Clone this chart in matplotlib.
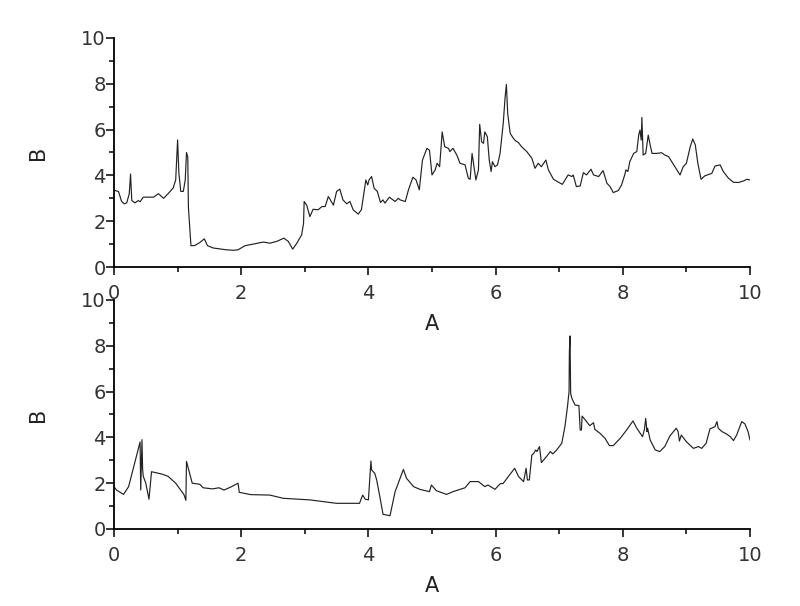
import numpy as np
import matplotlib
matplotlib.use('Agg')
import matplotlib.pyplot as plt
from matplotlib.ticker import MultipleLocator

# top panel
top_a = [0.0, 0.07, 0.12, 0.16, 0.2, 0.24, 0.26, 0.28, 0.33, 0.38, 0.41, 0.46, 0.62, 0.70, 0.78, 0.85,
         0.93, 0.97, 1.0, 1.02, 1.05, 1.09, 1.12, 1.14, 1.16, 1.17, 1.21, 1.27, 1.35, 1.42, 1.47, 1.56,
         1.77, 1.88, 1.95, 2.06, 2.19, 2.35, 2.45, 2.56, 2.67, 2.74, 2.81, 2.87, 2.95, 2.98, 2.99, 3.03,
         3.08, 3.13, 3.21, 3.27, 3.32, 3.37, 3.45, 3.5, 3.55, 3.6, 3.66, 3.71, 3.76, 3.84, 3.89, 3.96,
         3.99, 4.01, 4.05, 4.09, 4.14, 4.19, 4.23, 4.26, 4.33, 4.42, 4.47, 4.50, 4.58, 4.63, 4.70, 4.75,
         4.80, 4.85, 4.92, 4.96, 5.0, 5.05, 5.08, 5.12, 5.16, 5.2, 5.26, 5.28, 5.33, 5.39, 5.44, 5.52,
         5.57, 5.6, 5.63, 5.66, 5.69, 5.73, 5.75, 5.78, 5.81, 5.83, 5.87, 5.9, 5.93, 5.95, 5.99, 6.03,
         6.07, 6.12, 6.15, 6.17, 6.19, 6.23, 6.28, 6.31, 6.36, 6.41, 6.49, 6.57, 6.62, 6.67, 6.72, 6.79,
         6.83, 6.91, 6.99, 7.05, 7.14, 7.2, 7.22, 7.27, 7.33, 7.38, 7.43, 7.5, 7.54, 7.62, 7.69, 7.75,
         7.8, 7.85, 7.93, 7.98, 8.03, 8.05, 8.08, 8.11, 8.17, 8.22, 8.25, 8.27, 8.29, 8.3, 8.32, 8.36,
         8.4, 8.43, 8.46, 8.53, 8.61, 8.66, 8.72, 8.77, 8.85, 8.9, 8.95, 9.0, 9.06, 9.1, 9.14, 9.18,
         9.23, 9.29, 9.4, 9.45, 9.53, 9.58, 9.66, 9.74, 9.82, 9.9, 9.95, 10.0]
top_b = [3.35, 3.3, 2.86, 2.76, 2.8, 3.2, 4.06, 2.9, 2.8, 2.9, 2.85, 3.05, 3.05, 3.2, 3.0, 3.2,
         3.45, 3.8, 5.55, 4.1, 3.3, 3.3, 3.8, 5.0, 4.8, 2.6, 0.93, 0.94, 1.07, 1.23, 0.93, 0.83,
         0.75, 0.73, 0.75, 0.93, 1.0, 1.09, 1.04, 1.12, 1.26, 1.12, 0.78, 1.02, 1.4, 1.9, 2.86, 2.7,
         2.2, 2.52, 2.5, 2.64, 2.64, 3.08, 2.7, 3.3, 3.4, 2.93, 2.76, 2.86, 2.5, 2.31, 2.5, 3.8,
         3.58, 3.8, 3.95, 3.44, 3.3, 2.82, 2.93, 2.79, 3.05, 2.86, 3.0, 2.93, 2.86, 3.37, 3.92, 3.8,
         3.37, 4.67, 5.18, 5.1, 4.02, 4.24, 4.53, 4.38, 5.9, 5.25, 5.18, 5.04, 5.18, 4.89, 4.53, 4.46,
         3.88, 3.83, 4.96, 4.38, 3.8, 4.24, 6.23, 5.47, 5.4, 5.9, 5.69, 4.67, 4.17, 4.6, 4.38, 4.46,
         4.96, 6.27, 7.43, 7.97, 6.7, 5.83, 5.62, 5.52, 5.43, 5.25, 5.04, 4.75, 4.31, 4.53, 4.38, 4.67,
         4.24, 3.83, 3.7, 3.61, 4.02, 3.95, 4.02, 3.51, 3.54, 4.12, 4.02, 4.27, 4.02, 3.95, 4.21, 3.66,
         3.51, 3.25, 3.34, 3.58, 4.02, 4.24, 4.17, 4.6, 4.96, 5.04, 5.76, 5.98, 5.54, 6.53, 4.89, 4.96,
         5.76, 5.33, 4.96, 4.96, 4.99, 4.89, 4.82, 4.6, 4.24, 4.02, 4.38, 4.53, 5.25, 5.59, 5.33, 4.53,
         3.83, 3.98, 4.09, 4.41, 4.46, 4.17, 3.88, 3.7, 3.69, 3.76, 3.83, 3.8]

# bottom panel
bot_a = [0.0, 0.04, 0.15, 0.23, 0.33, 0.41, 0.42, 0.44, 0.45, 0.46, 0.5, 0.55, 0.59, 0.75, 0.85, 0.97,
         1.1, 1.13, 1.14, 1.23, 1.35, 1.4, 1.55, 1.65, 1.73, 1.85, 1.95, 1.97, 2.15, 2.45, 2.66, 3.08,
         3.5, 3.86, 3.91, 3.95, 4.0, 4.04, 4.05, 4.1, 4.13, 4.18, 4.23, 4.34, 4.37, 4.42, 4.47, 4.55,
         4.6, 4.71, 4.81, 4.96, 4.99, 5.07, 5.23, 5.33, 5.52, 5.6, 5.73, 5.83, 5.88, 5.99, 6.07, 6.12,
         6.2, 6.3, 6.36, 6.44, 6.48, 6.5, 6.53, 6.57, 6.6, 6.63, 6.65, 6.69, 6.72, 6.8, 6.86, 6.9,
         6.96, 7.04, 7.09, 7.13, 7.155, 7.16, 7.17, 7.18, 7.2, 7.25, 7.31, 7.33, 7.35, 7.36, 7.41, 7.48,
         7.54, 7.56, 7.64, 7.72, 7.79, 7.85, 7.96, 8.06, 8.16, 8.22, 8.31, 8.34, 8.36, 8.38, 8.39, 8.43,
         8.51, 8.58, 8.66, 8.74, 8.84, 8.87, 8.89, 8.92, 9.0, 9.11, 9.19, 9.24, 9.31, 9.37, 9.45, 9.48,
         9.5, 9.56, 9.63, 9.69, 9.74, 9.79, 9.87, 9.92, 9.97, 10.0]
bot_b = [1.85, 1.7, 1.51, 1.85, 2.94, 3.8, 1.7, 3.9, 2.6, 2.3, 2.0, 1.3, 2.5, 2.4, 2.3, 2.0,
         1.5, 1.25, 2.95, 2.0, 1.95, 1.8, 1.75, 1.8, 1.7, 1.85, 2.0, 1.6, 1.5, 1.48, 1.34, 1.27,
         1.12, 1.12, 1.48, 1.3, 1.27, 2.97, 2.58, 2.43, 2.14, 1.41, 0.64, 0.58, 0.97, 1.63, 2.0, 2.6,
         2.21, 1.85, 1.73, 1.63, 1.92, 1.67, 1.51, 1.63, 1.8, 2.07, 2.07, 1.85, 1.92, 1.73, 1.97, 1.99,
         2.29, 2.65, 2.29, 2.07, 2.65, 2.14, 2.14, 3.23, 3.3, 3.45, 3.38, 3.6, 2.9, 3.16, 3.38, 3.28,
         3.45, 3.74, 4.47, 5.34, 6.0, 7.74, 8.43, 5.92, 5.7, 5.41, 5.39, 4.32, 4.32, 4.93, 4.76, 4.51,
         4.64, 4.35, 4.18, 3.96, 3.64, 3.64, 3.96, 4.32, 4.72, 4.4, 4.03, 4.35, 4.83, 4.25, 4.4, 3.89,
         3.45, 3.38, 3.6, 4.06, 4.4, 4.25, 3.84, 4.1, 3.81, 3.52, 3.6, 3.52, 3.74, 4.37, 4.47, 4.69,
         4.4, 4.25, 4.15, 4.03, 3.86, 4.1, 4.69, 4.59, 4.25, 3.89]

plt.rcParams['font.family'] = ['DejaVu Sans']

fig = plt.figure(figsize=(8, 6.06), dpi=100)
ax1 = fig.add_axes([0.1425, 0.5594, 0.795, 0.3779])
ax2 = fig.add_axes([0.1425, 0.1271, 0.795, 0.3779])

for ax, a, b in [(ax1, top_a, top_b), (ax2, bot_a, bot_b)]:
    ax.plot(a, b, color='#222222', lw=0.85)
    ax.set_xlim(0, 10)
    ax.set_ylim(0, 10)
    ax.spines['top'].set_visible(False)
    ax.spines['right'].set_visible(False)
    for s in ['left', 'bottom']:
        ax.spines[s].set_linewidth(1.3)
    ax.xaxis.set_major_locator(MultipleLocator(2))
    ax.xaxis.set_minor_locator(MultipleLocator(1))
    ax.yaxis.set_major_locator(MultipleLocator(2))
    ax.yaxis.set_minor_locator(MultipleLocator(1))
    ax.tick_params(which='major', length=6, width=1.1, labelsize=14, labelcolor='#333333')
    ax.tick_params(which='minor', length=3.5, width=1.1)
    ax.tick_params(axis='x', which='major', pad=6)
    ax.tick_params(axis='y', which='major', pad=0)
    ax.set_xlabel('A', fontsize=15, color='#222222')
    ax.set_ylabel('B', fontsize=15, color='#222222')
    ax.xaxis.set_label_coords(0.5, -0.205)
    ax.yaxis.set_label_coords(-0.103, 0.5)
    ax.patch.set_alpha(0)

fig.savefig('out.png', dpi=100)
